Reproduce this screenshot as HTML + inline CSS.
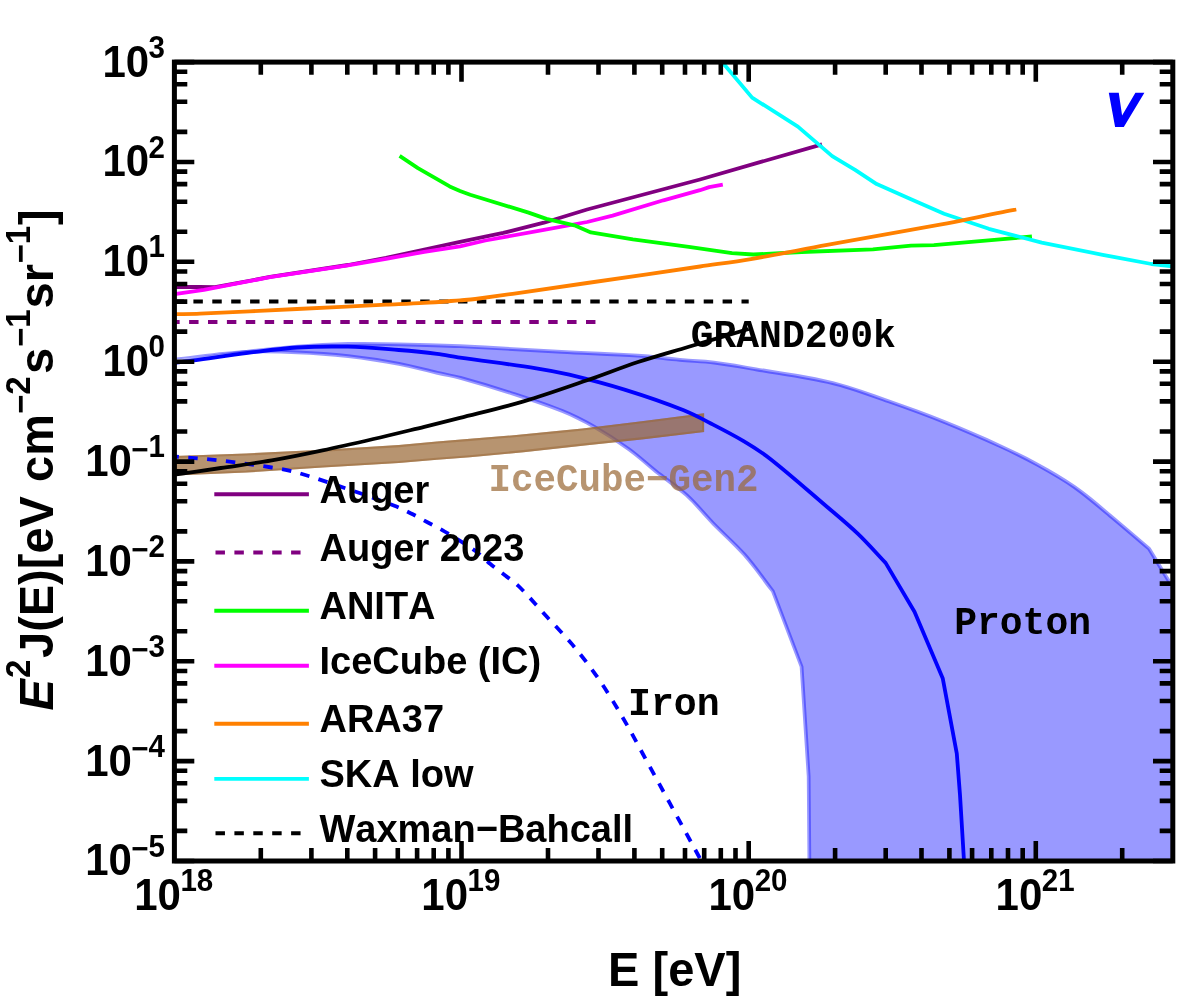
<!DOCTYPE html>
<html><head><meta charset="utf-8"><title>plot</title>
<style>html,body{margin:0;padding:0;background:#fff;overflow:hidden}svg{display:block;will-change:transform}text{font-family:"Liberation Sans",sans-serif;font-weight:bold;fill:#000;font-kerning:none;font-variant-ligatures:none}.m{font-family:"Liberation Mono",monospace;font-weight:bold}</style></head><body>
<svg width="1180" height="1003" viewBox="0 0 1180 1003">
<rect x="0" y="0" width="1180" height="1003" fill="#ffffff"/>
<defs><clipPath id="cp"><rect x="174.4" y="62.1" width="998.4" height="798.9"/></clipPath></defs>
<g clip-path="url(#cp)">
<path d="M174.5 360.5C198.4 357.0 222.3 353.1 246.3 350.0C263.1 347.8 280.1 346.0 297.0 344.7C314.0 343.4 331.0 342.5 348.0 342.1C364.9 341.7 381.9 342.1 398.8 342.4C419.2 342.8 439.6 343.3 460.0 344.3C493.9 345.9 527.8 348.2 561.7 350.0C587.1 351.4 612.6 352.1 638.0 353.8C652.0 354.7 666.0 356.7 680.0 358.0C691.4 359.0 702.9 359.3 714.3 360.7C728.4 362.4 742.3 365.0 756.3 367.4C782.0 371.8 807.9 375.1 833.2 381.2C852.2 385.8 870.6 393.0 889.1 399.5C907.9 406.1 926.6 412.9 945.1 420.3C963.9 427.9 982.6 436.0 1001.0 444.4C1013.6 450.2 1026.1 456.3 1038.3 463.0C1051.0 470.0 1063.7 477.3 1075.6 485.6C1088.6 494.8 1100.6 505.3 1112.9 515.5C1125.6 526.0 1138.0 536.8 1150.5 547.5L1172.8 584.0L1172.8 861L807.5 861.0L806.8 776.5L799.7 667.1L771.2 592.1C761.8 580.0 753.2 567.3 743.1 555.9C733.6 545.1 722.5 535.7 712.5 525.4C703.3 516.0 695.1 505.5 685.4 496.6C675.9 488.0 665.0 480.9 654.9 472.9C645.8 465.6 637.2 457.6 627.8 450.8C616.9 442.9 605.6 435.5 593.9 428.8C583.5 422.8 572.8 417.3 561.7 412.8C545.1 406.0 528.0 400.6 510.9 395.0C494.1 389.5 477.1 384.4 460.0 379.7C452.4 377.6 444.7 376.4 437.0 374.7C424.3 371.8 411.6 368.2 398.8 365.8C382.0 362.7 365.0 360.0 348.0 358.1C331.1 356.2 314.1 355.0 297.1 354.3C280.2 353.6 263.2 352.8 246.3 353.8C222.3 355.2 198.4 358.9 174.5 361.5Z" fill="rgb(0,0,255)" fill-opacity="0.4" stroke="none"/>
<path d="M174.9 363.3C198.8 359.8 222.7 355.9 246.7 352.8C263.5 350.7 280.3 348.9 297.2 347.5C314.1 346.2 331.1 345.3 348.1 344.9C364.9 344.6 381.9 344.9 398.7 345.2C419.1 345.7 439.5 346.2 459.9 347.1C493.8 348.7 527.6 351.0 561.5 352.8C587.0 354.2 612.4 354.9 637.8 356.6C651.8 357.6 665.8 359.6 679.7 360.8C691.1 361.9 702.6 362.1 714.0 363.5C728.0 365.3 741.9 367.8 755.8 370.2C781.4 374.6 807.3 377.9 832.5 384.0C851.5 388.5 869.7 395.8 888.2 402.2C906.9 408.7 925.6 415.5 944.0 422.9C962.8 430.5 981.4 438.6 999.8 447.0C1012.4 452.7 1024.8 458.8 1036.9 465.5C1049.5 472.5 1062.2 479.6 1074.0 487.9C1086.9 497.0 1098.9 507.6 1111.1 517.7C1123.7 528.1 1135.9 538.8 1148.4 549.4L1170.4 585.5" fill="none" stroke="rgb(0,0,255)" stroke-opacity="0.4" stroke-width="1.9" stroke-linejoin="round"/>
<path d="M174.2 358.7C198.2 356.1 222.1 352.4 246.1 351.0C263.1 350.0 280.2 350.7 297.2 351.5C314.3 352.2 331.4 353.4 348.3 355.3C365.4 357.2 382.4 359.8 399.3 363.0C412.2 365.4 424.8 369.0 437.6 371.9C445.3 373.7 453.2 374.9 460.8 377.0C477.9 381.7 494.9 386.8 511.8 392.3C528.9 397.9 546.1 403.4 562.8 410.2C574.0 414.7 584.8 420.3 595.3 426.3C607.1 433.1 618.5 440.6 629.5 448.5C638.9 455.3 647.5 463.4 656.7 470.7C666.8 478.7 677.8 485.8 687.3 494.5C697.1 503.4 705.3 513.9 714.5 523.4C724.6 533.8 735.7 543.2 745.2 554.0C755.5 565.6 764.2 578.5 773.7 590.8L802.5 666.6L809.6 776.4L810.3 861.0" fill="none" stroke="rgb(0,0,255)" stroke-opacity="0.4" stroke-width="1.9" stroke-linejoin="round"/>
<clipPath id="bp"><polygon points="174.5,456.0 246.3,453.5 322.6,449.7 398.8,445.1 437.0,441.5 470.0,438.8 511.2,435.4 561.7,430.6 582.4,428.5 641.7,421.2 704.1,413.2 704.1,432.1 641.7,439.4 587.1,445.2 523.6,452.2 470.0,457.3 437.0,459.8 398.8,463.1 322.6,467.5 246.3,472.6 174.5,475.6"/></clipPath>
<polygon points="174.5,456.0 246.3,453.5 322.6,449.7 398.8,445.1 437.0,441.5 470.0,438.8 511.2,435.4 561.7,430.6 582.4,428.5 641.7,421.2 704.1,413.2 704.1,432.1 641.7,439.4 587.1,445.2 523.6,452.2 470.0,457.3 437.0,459.8 398.8,463.1 322.6,467.5 246.3,472.6 174.5,475.6" fill="rgb(153,102,51)" fill-opacity="0.7" stroke="none"/>
<polygon points="174.5,456.0 246.3,453.5 322.6,449.7 398.8,445.1 437.0,441.5 470.0,438.8 511.2,435.4 561.7,430.6 582.4,428.5 641.7,421.2 704.1,413.2 704.1,432.1 641.7,439.4 587.1,445.2 523.6,452.2 470.0,457.3 437.0,459.8 398.8,463.1 322.6,467.5 246.3,472.6 174.5,475.6" fill="none" stroke="rgb(153,102,51)" stroke-opacity="0.5" stroke-width="4.2" stroke-linejoin="miter" clip-path="url(#bp)"/>
</g>
<g clip-path="url(#cp)">
<path d="M174.5 362.8C181.0 362.0 187.5 361.2 194.0 360.3C212.0 357.9 230.0 355.1 248.0 352.9C264.3 350.9 280.7 348.5 297.1 347.5C314.0 346.5 331.1 346.3 348.0 346.7C365.0 347.1 381.9 348.7 398.8 350.0C411.6 351.0 424.3 352.2 437.0 353.8C444.7 354.8 452.3 356.5 460.0 357.6C485.4 361.3 510.9 364.3 536.3 368.3C547.4 370.0 558.4 372.1 569.3 374.7C588.1 379.3 606.8 384.2 625.3 389.9C645.0 396.0 664.6 402.7 683.7 410.3C693.8 414.3 703.4 419.6 713.1 424.6C723.4 429.9 733.7 435.2 743.6 441.1C752.8 446.6 761.9 452.3 770.3 458.9C789.9 474.3 808.5 491.0 827.5 507.2C837.8 516.0 848.3 524.6 858.0 533.9C867.6 543.1 876.4 553.2 885.6 562.9L914.5 611.8L942.8 678.6L956.8 753.6L960.0 795.0L964.0 861.0" fill="none" stroke="rgb(0,0,255)" stroke-width="3.8" stroke-linejoin="round"/>
</g>
<g clip-path="url(#cp)">
<path d="M169.4 456.2C171.1 456.3 172.8 456.4 174.5 456.5C190.0 457.8 205.5 458.9 220.9 460.6C237.9 462.5 254.8 464.8 271.7 467.5C280.2 468.8 288.8 470.3 297.1 472.6C314.2 477.5 331.1 483.4 348.0 489.1C363.5 494.4 379.1 499.8 394.4 505.7C400.1 507.9 405.6 510.7 411.1 513.5C416.8 516.3 422.3 519.5 427.9 522.5C433.5 525.5 439.2 528.2 444.6 531.5C455.1 537.8 465.7 544.1 475.7 551.2C480.9 554.9 485.2 559.8 490.1 563.8C495.1 567.9 500.5 571.7 505.6 575.7C510.1 579.2 514.9 582.5 519.0 586.5C528.8 596.2 537.8 606.8 547.1 617.0C555.6 626.3 564.5 635.2 572.6 644.9C581.5 655.6 590.1 666.6 598.0 678.0C607.1 691.2 615.3 704.9 623.4 718.7C630.5 730.8 637.0 743.2 643.7 755.5C662.2 789.3 680.7 823.2 699.2 857.0L701.4 861.0" fill="none" stroke="rgb(0,0,255)" stroke-width="3.8" stroke-linejoin="round" stroke-dasharray="9.45 9.45"/>
<polyline points="174.5,301.5 748.7,301.5" fill="none" stroke="#000" stroke-width="3.8" stroke-linejoin="round" stroke-dasharray="9.45 9.45"/>
<polyline points="170.2,322.0 597.0,322.0" fill="none" stroke="rgb(128,0,128)" stroke-width="3.8" stroke-linejoin="round" stroke-dasharray="9.45 9.45"/>
<polyline points="174.5,287.0 199.7,287.0 215.0,287.2 241.2,282.4 270.0,276.9 348.0,265.0 386.0,257.8 424.3,249.5 460.0,241.8 503.2,232.9 543.9,222.7 587.1,209.5 700.0,179.5 760.0,162.2 822.0,144.4" fill="none" stroke="rgb(128,0,128)" stroke-width="3.8" stroke-linejoin="round"/>
<polyline points="174.5,294.2 203.9,289.9 241.2,282.7 270.0,277.2 348.0,265.3 386.1,258.9 424.3,251.8 460.0,246.4 485.4,240.5 543.9,229.8 587.1,222.0 612.6,215.6 663.4,200.3 700.0,190.2 709.2,187.1 722.8,184.6" fill="none" stroke="rgb(255,0,255)" stroke-width="3.8" stroke-linejoin="round"/>
<polyline points="399.6,155.9 417.9,168.1 449.7,186.4 460.0,190.9 470.2,194.8 528.6,212.6 546.4,218.9 574.4,225.3 590.9,232.4 632.9,239.3 688.8,246.9 732.0,253.2 753.4,254.5 801.7,252.0 872.9,249.4 911.0,245.6 933.9,245.1 1000.0,239.3 1031.9,236.5" fill="none" stroke="rgb(0,255,0)" stroke-width="3.8" stroke-linejoin="round"/>
<polyline points="722.5,60.0 724.2,64.5 752.1,97.6 797.9,126.6 832.2,156.1 855.1,169.8 876.7,184.1 911.0,199.3 944.1,213.8 988.8,228.8 1041.7,242.6 1102.7,254.8 1151.5,264.0 1172.8,266.3" fill="none" stroke="rgb(0,255,255)" stroke-width="3.8" stroke-linejoin="round"/>
<path d="M174.5 314.2C183.0 314.0 191.5 314.0 200.0 313.6C232.3 312.2 264.7 310.5 297.0 309.0C326.7 307.6 356.3 306.1 386.0 304.7C398.7 304.1 411.3 303.7 424.0 302.9C436.0 302.2 448.0 301.2 460.0 300.3C465.1 299.9 470.2 299.7 475.3 299.0C512.6 293.9 549.8 288.4 587.1 283.0C624.7 277.6 662.4 272.0 700.0 266.5C717.0 264.0 734.0 262.0 750.9 259.1C776.4 254.8 801.7 249.5 827.1 244.9C864.7 238.1 902.4 231.7 940.0 224.7C960.1 221.0 980.0 216.6 1000.0 212.6C1005.4 211.5 1010.9 210.5 1016.3 209.5" fill="none" stroke="rgb(255,128,0)" stroke-width="3.8" stroke-linejoin="round"/>
<path d="M174.5 474.6C190.0 472.4 205.4 470.3 220.9 468.0C237.8 465.5 254.8 463.3 271.7 460.4C288.7 457.5 305.7 454.0 322.6 450.4C339.6 446.8 356.5 442.9 373.4 439.0C390.4 435.1 407.3 430.9 424.3 426.8C436.2 423.9 448.1 420.9 460.0 417.9C481.2 412.5 502.6 407.6 523.6 401.4C545.0 395.1 566.0 387.6 587.1 380.3C604.1 374.4 620.9 367.7 638.0 362.0C654.8 356.5 671.9 351.8 688.8 346.7C708.8 340.8 728.7 334.9 748.7 329.0" fill="none" stroke="#000" stroke-width="3.8" stroke-linejoin="round"/>
</g>
<g stroke="#000" stroke-width="4.6" fill="none">
<path d="M260.8 62.1L260.8 74.8 M260.8 848.0L260.8 861.0 M311.4 62.1L311.4 74.8 M311.4 848.0L311.4 861.0 M347.3 62.1L347.3 74.8 M347.3 848.0L347.3 861.0 M375.1 62.1L375.1 74.8 M375.1 848.0L375.1 861.0 M397.8 62.1L397.8 74.8 M397.8 848.0L397.8 861.0 M417.1 62.1L417.1 74.8 M417.1 848.0L417.1 861.0 M433.7 62.1L433.7 74.8 M433.7 848.0L433.7 861.0 M448.4 62.1L448.4 74.8 M448.4 848.0L448.4 861.0 M461.5 62.1L461.5 81.7 M461.5 841.0L461.5 861.0 M548.0 62.1L548.0 74.8 M548.0 848.0L548.0 861.0 M598.5 62.1L598.5 74.8 M598.5 848.0L598.5 861.0 M634.4 62.1L634.4 74.8 M634.4 848.0L634.4 861.0 M662.2 62.1L662.2 74.8 M662.2 848.0L662.2 861.0 M685.0 62.1L685.0 74.8 M685.0 848.0L685.0 861.0 M704.2 62.1L704.2 74.8 M704.2 848.0L704.2 861.0 M720.8 62.1L720.8 74.8 M720.8 848.0L720.8 861.0 M735.5 62.1L735.5 74.8 M735.5 848.0L735.5 861.0 M748.7 62.1L748.7 81.7 M748.7 841.0L748.7 861.0 M835.1 62.1L835.1 74.8 M835.1 848.0L835.1 861.0 M885.7 62.1L885.7 74.8 M885.7 848.0L885.7 861.0 M921.5 62.1L921.5 74.8 M921.5 848.0L921.5 861.0 M949.4 62.1L949.4 74.8 M949.4 848.0L949.4 861.0 M972.1 62.1L972.1 74.8 M972.1 848.0L972.1 861.0 M991.3 62.1L991.3 74.8 M991.3 848.0L991.3 861.0 M1008.0 62.1L1008.0 74.8 M1008.0 848.0L1008.0 861.0 M1022.7 62.1L1022.7 74.8 M1022.7 848.0L1022.7 861.0 M1035.8 62.1L1035.8 81.7 M1035.8 841.0L1035.8 861.0 M1122.2 62.1L1122.2 74.8 M1122.2 848.0L1122.2 861.0 M174.4 861.0L194.3 861.0 M1153.0 861.0L1172.8 861.0 M174.4 830.9L187.3 830.9 M1159.7 830.9L1172.8 830.9 M174.4 800.9L187.3 800.9 M1159.7 800.9L1172.8 800.9 M174.4 783.3L187.3 783.3 M1159.7 783.3L1172.8 783.3 M174.4 770.8L187.3 770.8 M1159.7 770.8L1172.8 770.8 M174.4 761.1L194.3 761.1 M1153.0 761.1L1172.8 761.1 M174.4 731.1L187.3 731.1 M1159.7 731.1L1172.8 731.1 M174.4 701.0L187.3 701.0 M1159.7 701.0L1172.8 701.0 M174.4 683.4L187.3 683.4 M1159.7 683.4L1172.8 683.4 M174.4 671.0L187.3 671.0 M1159.7 671.0L1172.8 671.0 M174.4 661.3L194.3 661.3 M1153.0 661.3L1172.8 661.3 M174.4 631.2L187.3 631.2 M1159.7 631.2L1172.8 631.2 M174.4 601.2L187.3 601.2 M1159.7 601.2L1172.8 601.2 M174.4 583.6L187.3 583.6 M1159.7 583.6L1172.8 583.6 M174.4 571.1L187.3 571.1 M1159.7 571.1L1172.8 571.1 M174.4 561.4L194.3 561.4 M1153.0 561.4L1172.8 561.4 M174.4 531.4L187.3 531.4 M1159.7 531.4L1172.8 531.4 M174.4 501.3L187.3 501.3 M1159.7 501.3L1172.8 501.3 M174.4 483.7L187.3 483.7 M1159.7 483.7L1172.8 483.7 M174.4 471.2L187.3 471.2 M1159.7 471.2L1172.8 471.2 M174.4 461.6L194.3 461.6 M1153.0 461.6L1172.8 461.6 M174.4 431.5L187.3 431.5 M1159.7 431.5L1172.8 431.5 M174.4 401.4L187.3 401.4 M1159.7 401.4L1172.8 401.4 M174.4 383.8L187.3 383.8 M1159.7 383.8L1172.8 383.8 M174.4 371.4L187.3 371.4 M1159.7 371.4L1172.8 371.4 M174.4 361.7L194.3 361.7 M1153.0 361.7L1172.8 361.7 M174.4 331.6L187.3 331.6 M1159.7 331.6L1172.8 331.6 M174.4 301.6L187.3 301.6 M1159.7 301.6L1172.8 301.6 M174.4 284.0L187.3 284.0 M1159.7 284.0L1172.8 284.0 M174.4 271.5L187.3 271.5 M1159.7 271.5L1172.8 271.5 M174.4 261.8L194.3 261.8 M1153.0 261.8L1172.8 261.8 M174.4 231.8L187.3 231.8 M1159.7 231.8L1172.8 231.8 M174.4 201.7L187.3 201.7 M1159.7 201.7L1172.8 201.7 M174.4 184.1L187.3 184.1 M1159.7 184.1L1172.8 184.1 M174.4 171.6L187.3 171.6 M1159.7 171.6L1172.8 171.6 M174.4 162.0L194.3 162.0 M1153.0 162.0L1172.8 162.0 M174.4 131.9L187.3 131.9 M1159.7 131.9L1172.8 131.9 M174.4 101.8L187.3 101.8 M1159.7 101.8L1172.8 101.8 M174.4 84.3L187.3 84.3 M1159.7 84.3L1172.8 84.3 M174.4 71.8L187.3 71.8 M1159.7 71.8L1172.8 71.8 M174.4 62.1L194.3 62.1 M1153.0 62.1L1172.8 62.1"/>
</g>
<rect x="174.4" y="62.1" width="998.4" height="798.9" fill="none" stroke="#000" stroke-width="5"/>
<text transform="translate(173.7,909.9) scale(1,1.040)" text-anchor="middle" font-size="42.0">10<tspan font-size="29.5" dy="-18.08" dx="-0.5">18</tspan></text>
<text transform="translate(460.8,909.9) scale(1,1.040)" text-anchor="middle" font-size="42.0">10<tspan font-size="29.5" dy="-18.08" dx="-0.5">19</tspan></text>
<text transform="translate(748.0,909.9) scale(1,1.040)" text-anchor="middle" font-size="42.0">10<tspan font-size="29.5" dy="-18.08" dx="-0.5">20</tspan></text>
<text transform="translate(1035.1,909.9) scale(1,1.040)" text-anchor="middle" font-size="42.0">10<tspan font-size="29.5" dy="-18.08" dx="-0.5">21</tspan></text>
<text transform="translate(165.0,875.4) scale(1,1.040)" text-anchor="end" font-size="42.0">10<tspan font-size="29.5" dy="-15.58" dx="-0.5">−</tspan><tspan font-size="29.5" dy="-2.50">5</tspan></text>
<text transform="translate(165.0,775.5) scale(1,1.040)" text-anchor="end" font-size="42.0">10<tspan font-size="29.5" dy="-15.58" dx="-0.5">−</tspan><tspan font-size="29.5" dy="-2.50">4</tspan></text>
<text transform="translate(165.0,675.7) scale(1,1.040)" text-anchor="end" font-size="42.0">10<tspan font-size="29.5" dy="-15.58" dx="-0.5">−</tspan><tspan font-size="29.5" dy="-2.50">3</tspan></text>
<text transform="translate(165.0,575.8) scale(1,1.040)" text-anchor="end" font-size="42.0">10<tspan font-size="29.5" dy="-15.58" dx="-0.5">−</tspan><tspan font-size="29.5" dy="-2.50">2</tspan></text>
<text transform="translate(165.0,475.9) scale(1,1.040)" text-anchor="end" font-size="42.0">10<tspan font-size="29.5" dy="-15.58" dx="-0.5">−</tspan><tspan font-size="29.5" dy="-2.50">1</tspan></text>
<text transform="translate(165.0,376.1) scale(1,1.040)" text-anchor="end" font-size="42.0">10<tspan font-size="29.5" dy="-18.08" dx="-0.5">0</tspan></text>
<text transform="translate(165.0,276.2) scale(1,1.040)" text-anchor="end" font-size="42.0">10<tspan font-size="29.5" dy="-18.08" dx="-0.5">1</tspan></text>
<text transform="translate(165.0,176.4) scale(1,1.040)" text-anchor="end" font-size="42.0">10<tspan font-size="29.5" dy="-18.08" dx="-0.5">2</tspan></text>
<text transform="translate(165.0,76.5) scale(1,1.040)" text-anchor="end" font-size="42.0">10<tspan font-size="29.5" dy="-18.08" dx="-0.5">3</tspan></text>
<text transform="translate(674.7,986) scale(1,1.040)" text-anchor="middle" font-size="47">E [eV]</text>
<text transform="translate(53.3,710.5) rotate(-90) scale(1,1.040)" font-size="47.0" font-style="italic">E</text>
<text transform="translate(29.9,678.0) rotate(-90) scale(1,1.040)" font-size="33.0">2</text>
<text transform="translate(53.3,658.0) rotate(-90) scale(1,1.040)" font-size="47.0">J(E)[eV</text>
<text transform="translate(53.3,482.0) rotate(-90) scale(1,1.040)" font-size="47.0">cm</text>
<text transform="translate(29.9,414.0) rotate(-90) scale(1,1.040)" font-size="33.0"><tspan dy="1.92">−</tspan><tspan dy="-1.92">2</tspan></text>
<text transform="translate(53.3,374.0) rotate(-90) scale(1,1.040)" font-size="47.0">s</text>
<text transform="translate(29.9,347.0) rotate(-90) scale(1,1.040)" font-size="33.0"><tspan dy="1.92">−</tspan><tspan dy="-1.92">1</tspan></text>
<text transform="translate(53.3,308.5) rotate(-90) scale(1,1.040)" font-size="47.0">sr</text>
<text transform="translate(29.9,263.5) rotate(-90) scale(1,1.040)" font-size="33.0"><tspan dy="1.92">−</tspan><tspan dy="-1.92">1</tspan></text>
<text transform="translate(53.3,225.0) rotate(-90) scale(1,1.040)" font-size="47.0">]</text>
<text class="m" transform="translate(690.7,347.0) scale(1,1.030)" font-size="38.0">GRAND200k</text>
<text class="m" transform="translate(488.5,490.6) scale(1,1.030)" font-size="37.5" style="fill:rgb(153,102,51);fill-opacity:0.7">IceCube−Gen2</text>
<text class="m" transform="translate(954.2,634.4) scale(1,1.030)" font-size="38.0">Proton</text>
<text class="m" transform="translate(628.0,715.3) scale(1,1.030)" font-size="38.2">Iron</text>
<polygon points="1108.8,92.7 1118.75,92.7 1122.1,115.4 1135.4,92.7 1144.4,92.7 1123.8,126.9 1115.1,126.9" fill="rgb(0,0,255)"/>
<line x1="214.3" y1="494.2" x2="308.9" y2="494.2" stroke="rgb(128,0,128)" stroke-width="3.9"/>
<text transform="translate(319.5,502.8) scale(1,1.040)" font-size="38">Auger</text>
<line x1="215.5" y1="552.5" x2="308.9" y2="552.5" stroke="rgb(128,0,128)" stroke-width="3.9" stroke-dasharray="9.45 9.45"/>
<text transform="translate(319.5,560.8) scale(1,1.040)" font-size="38">Auger 2023</text>
<line x1="214.3" y1="610.8" x2="308.9" y2="610.8" stroke="rgb(0,255,0)" stroke-width="3.9"/>
<text transform="translate(319.5,619.1) scale(1,1.040)" font-size="38">ANITA</text>
<line x1="214.3" y1="665.8" x2="308.9" y2="665.8" stroke="rgb(255,0,255)" stroke-width="3.9"/>
<text transform="translate(319.5,673.9) scale(1,1.040)" font-size="38">IceCube (IC)</text>
<line x1="214.3" y1="723.7" x2="308.9" y2="723.7" stroke="rgb(255,128,0)" stroke-width="3.9"/>
<text transform="translate(319.5,732.1) scale(1,1.040)" font-size="38">ARA37</text>
<line x1="214.3" y1="778.9" x2="308.9" y2="778.9" stroke="rgb(0,255,255)" stroke-width="3.9"/>
<text transform="translate(319.5,787.0) scale(1,1.040)" font-size="38">SKA low</text>
<line x1="215.5" y1="833.3" x2="308.9" y2="833.3" stroke="#000" stroke-width="3.9" stroke-dasharray="9.45 9.45"/>
<text transform="translate(319.5,842.4) scale(1,1.040)" font-size="38">Waxman−Bahcall</text>
</svg></body></html>
